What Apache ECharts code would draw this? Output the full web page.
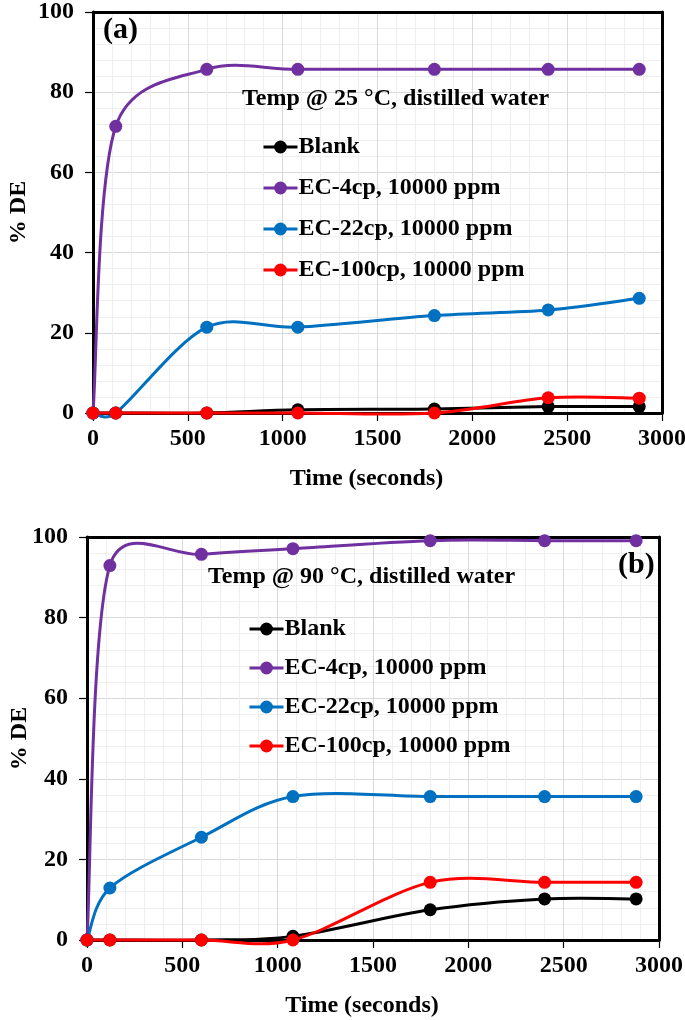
<!DOCTYPE html>
<html>
<head>
<meta charset="utf-8">
<script src="https://cdn.jsdelivr.net/npm/echarts@6/dist/echarts.min.js"></script>
<style>html,body{margin:0;padding:0;background:#fff;}#c{width:685px;height:1020px;}</style>
</head>
<body>
<div id="c"></div>
<script>
// Shared x values (seconds)
const times = [0, 120, 600, 1080, 1800, 2400, 2880];
const seriesNames = ['Blank', 'EC-4cp, 10000 ppm', 'EC-22cp, 10000 ppm', 'EC-100cp, 10000 ppm'];
const colors = ['#000000', '#7030A0', '#0070C0', '#FF0000'];
// Panel (a): 25 °C
const blankA = [0, 0, 0, 0.8, 1.0, 1.6, 1.6];
const ec4A   = [0, 71.5, 85.7, 85.7, 85.7, 85.7, 85.7];
const ec22A  = [0, 0, 21.4, 21.4, 24.3, 25.7, 28.6];
const ec100A = [0, 0, 0, 0, 0, 3.8, 3.7];
// Panel (b): 90 °C
const blankB = [0, 0, 0, 0.9, 7.5, 10.2, 10.2];
const ec4B   = [0, 92.9, 95.7, 97.1, 99.1, 99.1, 99.1];
const ec22B  = [0, 12.9, 25.5, 35.6, 35.6, 35.6, 35.6];
const ec100B = [0, 0, 0, 0, 14.3, 14.3, 14.3];
const xTicks = [0, 500, 1000, 1500, 2000, 2500, 3000];
const yTicks = [0, 20, 40, 60, 80, 100];

const FONT = '"Liberation Serif", "Times New Roman", serif';
const pair = (ys) => times.map((t, i) => [t, ys[i]]);

function xAxis(gi) {
  return {
    type: 'value', gridIndex: gi, position: 'bottom', min: xTicks[0], max: xTicks[xTicks.length - 1], interval: 500,
    name: 'Time (seconds)', nameLocation: 'middle', nameGap: 54,
    nameTextStyle: { fontFamily: FONT, fontWeight: 'bold', fontSize: 24, color: '#000', padding: [0, 22, 0, 0] },
    axisLine: { show: true, onZero: false, lineStyle: { color: '#000', width: 3 } },
    axisTick: { show: true, length: 8, lineStyle: { color: '#000', width: 1.2 } },
    axisLabel: { fontFamily: FONT, fontWeight: 'bold', fontSize: 24, color: '#000', margin: 14, formatter: (v) => String(v) },
    splitLine: { show: true, showMinLine: false, showMaxLine: false, lineStyle: { color: '#d9d9d9', width: 1 } },
    minorTick: { show: false, splitNumber: 5 },
    minorSplitLine: { show: true, lineStyle: { color: '#efefef', width: 1 } }
  };
}
function yAxis(gi, gap) {
  return {
    type: 'value', gridIndex: gi, position: 'left', min: yTicks[0], max: yTicks[yTicks.length - 1], interval: 20,
    name: '% DE', nameLocation: 'middle', nameGap: gap, nameRotate: 90, nameMoveOverlap: false,
    nameTextStyle: { fontFamily: FONT, fontWeight: 'bold', fontSize: 24, color: '#000' },
    axisLine: { show: true, onZero: false, lineStyle: { color: '#000', width: 3 } },
    axisTick: { show: true, length: 8, lineStyle: { color: '#000', width: 1.2 } },
    axisLabel: { fontFamily: FONT, fontWeight: 'bold', fontSize: 24, color: '#000', margin: 19 },
    splitLine: { show: true, showMinLine: false, showMaxLine: false, lineStyle: { color: '#d9d9d9', width: 1 } },
    minorTick: { show: false, splitNumber: 5 },
    minorSplitLine: { show: true, lineStyle: { color: '#efefef', width: 1 } }
  };
}
function frameAxis(kind, gi) {
  return {
    type: 'value', gridIndex: gi, min: 0, max: kind === 'x' ? 3000 : 100,
    position: kind === 'x' ? 'top' : 'right',
    axisLine: { show: true, onZero: false, lineStyle: { color: '#000', width: 3 } },
    axisTick: { show: false }, axisLabel: { show: false }, splitLine: { show: false }
  };
}
// Smooth (Excel-like) Bezier curve through the data, converted with the axis scales
function smoothRenderer(ys, color) {
  return function (params, api) {
    if (params.dataIndex !== 0) return null;
    const pts = times.map((t, i) => api.coord([t, ys[i]]));
    const n = pts.length;
    const dist = (a, b) => Math.hypot(a[0] - b[0], a[1] - b[1]);
    const outC = [], inC = [];
    for (let i = 0; i < n; i++) {
      const pp = pts[Math.max(i - 1, 0)], pn = pts[Math.min(i + 1, n - 1)];
      const tx = (pn[0] - pp[0]) / 6, ty = (pn[1] - pp[1]) / 6;
      const dPrev = i > 0 ? dist(pts[i - 1], pts[i]) : 0;
      const dNext = i < n - 1 ? dist(pts[i], pts[i + 1]) : 0;
      const sum = dPrev + dNext || 1;
      const fOut = Math.pow(Math.min(1, 2 * dNext / sum), 0.4);
      const fIn = Math.pow(Math.min(1, 2 * dPrev / sum), 0.4);
      outC.push([pts[i][0] + tx * fOut, pts[i][1] + ty * fOut]);
      inC.push([pts[i][0] - tx * fIn, pts[i][1] - ty * fIn]);
    }
    const children = [];
    for (let i = 0; i < n - 1; i++) {
      children.push({
        type: 'bezierCurve',
        shape: {
          x1: pts[i][0], y1: pts[i][1], x2: pts[i + 1][0], y2: pts[i + 1][1],
          cpx1: outC[i][0], cpy1: outC[i][1], cpx2: inC[i + 1][0], cpy2: inC[i + 1][1]
        },
        style: { fill: null, stroke: color, lineWidth: 3, lineCap: 'round' }
      });
    }
    return { type: 'group', children: children };
  };
}
function curveSeries(ys, color, gi) {
  return {
    type: 'custom', coordinateSystem: 'cartesian2d', xAxisIndex: gi, yAxisIndex: gi,
    data: pair(ys), renderItem: smoothRenderer(ys, color), clip: false, silent: true, animation: false
  };
}
function markerSeries(name, color, ys, gi) {
  return {
    name: name, type: 'line', xAxisIndex: gi, yAxisIndex: gi,
    data: pair(ys), symbol: 'circle', symbolSize: 13,
    lineStyle: { color: color, width: 3, opacity: 0 }, itemStyle: { color: color },
    emphasis: { disabled: true }, animation: false, clip: false
  };
}
function legend(left, top, gap) {
  return {
    data: seriesNames, orient: 'vertical', left: left, top: top, itemGap: gap,
    itemWidth: 34, itemHeight: 16, selectedMode: false,
    lineStyle: { width: 3, opacity: 1 },
    textStyle: { fontFamily: FONT, fontWeight: 'bold', fontSize: 24, color: '#000', lineHeight: 24, padding: [0, 0, 0, -4] }
  };
}

const series = [];
const panels = [[blankA, ec4A, ec22A, ec100A], [blankB, ec4B, ec22B, ec100B]];
panels.forEach((sets, gi) => {
  sets.forEach((ys, k) => {
    series.push(curveSeries(ys, colors[k], gi));
    series.push(markerSeries(seriesNames[k], colors[k], ys, gi));
  });
});

const chart = echarts.init(document.getElementById('c'), null, { renderer: 'canvas' });
chart.setOption({
  backgroundColor: '#fff',
  animation: false,
  grid: [
    { left: 93, top: 12, width: 569, height: 401, outerBoundsMode: 'none', containLabel: false, show: false },
    { left: 87, top: 537, width: 572, height: 403, outerBoundsMode: 'none', containLabel: false, show: false }
  ],
  title: [
    { text: '(a)', left: 98, top: 10, textStyle: { fontFamily: FONT, fontWeight: 'bold', fontSize: 30, color: '#000' } },
    { text: 'Temp @ 25 °C, distilled water', left: 237, top: 82, textStyle: { fontFamily: FONT, fontWeight: 'bold', fontSize: 24, color: '#000' } },
    { text: '(b)', left: 613, top: 545, textStyle: { fontFamily: FONT, fontWeight: 'bold', fontSize: 30, color: '#000' } },
    { text: 'Temp @ 90 °C, distilled water', left: 203, top: 560, textStyle: { fontFamily: FONT, fontWeight: 'bold', fontSize: 24, color: '#000' } }
  ],
  legend: [legend(257, 130, 17), legend(243, 612, 15)],
  xAxis: [xAxis(0), xAxis(1), frameAxis('x', 0), frameAxis('x', 1)],
  yAxis: [yAxis(0, 62), yAxis(1, 55), frameAxis('y', 0), frameAxis('y', 1)],
  series: series
});
</script>
</body>
</html>
